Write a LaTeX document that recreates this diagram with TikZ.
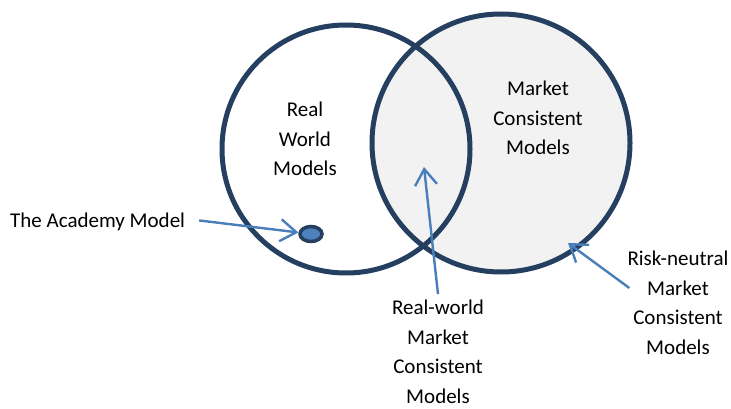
\documentclass[tikz,border=0pt]{standalone}
\usepackage{fontspec}
\setmainfont{Carlito}
\usetikzlibrary{arrows.meta,shapes.geometric}
\definecolor{navy}{RGB}{36,63,96}
\definecolor{arrowblue}{RGB}{74,126,187}
\definecolor{dotblue}{RGB}{79,129,189}
\definecolor{shade}{RGB}{242,242,242}

\begin{document}
\begin{tikzpicture}[x=1pt,y=-1pt]
		\tikzstyle{set}=[circle, inner sep=0pt, line width=5pt, draw=navy]
		\tikzstyle{lbl}=[align=center, font=\fontsize{21}{29.5}\selectfont, inner sep=2pt]
		\tikzstyle{connect}=[-{Straight Barb[length=16pt,width=22pt]}, line width=2.4pt, draw=arrowblue]
		\useasboundingbox (0,0) rectangle (731,409);
		\node[set, fill=shade, minimum size=258pt] (mc) at (501,143) { };
		\node[set, minimum size=248pt] (rw) at (346,149) { };
		
		\node[lbl] (rwText) at (305,139) {Real\\World\\Models};
		\node[lbl] (mcText) at (538,118) {Market\\Consistent\\Models};
		
		\node[ellipse, draw=navy, line width=3.5pt, fill=dotblue, minimum width=22pt, minimum height=15pt, inner sep=0pt] (dot) at (311,234) { };
		\node[lbl, anchor=west] (academy) at (8,222) {The Academy Model};
		
		\node[lbl] (rwmc) at (438,352) {Real-world\\Market\\Consistent\\Models};
		\node[lbl] (risk) at (678,303) {Risk-neutral\\Market\\Consistent\\Models};
		
		\coordinate (rwmcTip) at (424,167);
		\coordinate (riskTip) at (568,243);
		
		\path ([yshift=3pt]academy.east) edge [connect, shorten <=12pt] (dot);
		\path ([yshift=4pt]rwmc.north) edge [connect] (rwmcTip);
		\path ([yshift=15pt, xshift=4pt]risk.west) edge [connect] (riskTip);
	\end{tikzpicture}
\end{document}
